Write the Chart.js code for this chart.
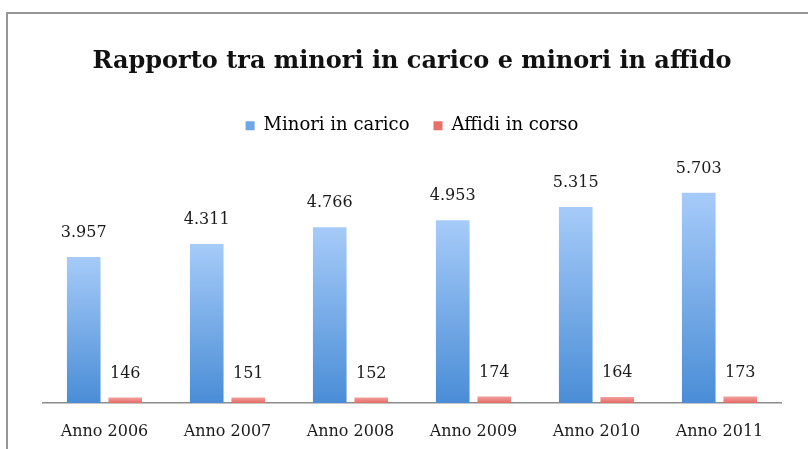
<!DOCTYPE html>
<html>
<head>
<meta charset="utf-8">
<script src="https://cdn.jsdelivr.net/npm/chart.js@4"></script>
<style>
  html, body { margin: 0; padding: 0; background: #fff; }
  #wrap { position: relative; width: 808px; height: 449px; overflow: hidden; }
  #frame { position: absolute; left: 6px; top: 12px; width: 820px; height: 460px;
           border-top: 2px solid #979797; border-left: 2px solid #979797; pointer-events: none; }
  canvas { position: absolute; left: 0; top: 0; }
</style>
</head>
<body>
<div id="wrap">
  <canvas id="c" width="808" height="449"></canvas>
  <div id="frame"></div>
</div>
<script>
const categories = ['Anno 2006', 'Anno 2007', 'Anno 2008', 'Anno 2009', 'Anno 2010', 'Anno 2011'];
const minoriInCarico = [3957, 4311, 4766, 4953, 5315, 5703];
const affidiInCorso = [146, 151, 152, 174, 164, 173];
const seriesNames = ['Minori in carico', 'Affidi in corso'];
const chartTitle = 'Rapporto tra minori in carico e minori in affido';

const SERIF = '"DejaVu Serif", "Liberation Serif", serif';

// thousands separator in Italian style: 3957 -> "3.957"
function fmt(v) {
  return String(v).replace(/\B(?=(\d{3})+(?!\d))/g, '.');
}

// vertical gradient that runs from each bar's own top down to the baseline
function barGradient(topColor, bottomColor) {
  return function (ctx) {
    const chart = ctx.chart;
    const y = chart.scales && chart.scales.y;
    if (!y || ctx.type !== 'data') return bottomColor;
    const v = ctx.dataset.data[ctx.dataIndex];
    const top = y.getPixelForValue(v);
    const base = y.getPixelForValue(0);
    if (!isFinite(top) || !isFinite(base) || base - top < 1) return bottomColor;
    const g = chart.ctx.createLinearGradient(0, top, 0, base);
    g.addColorStop(0, topColor);
    g.addColorStop(1, bottomColor);
    return g;
  };
}

// value labels above every bar
const valueLabels = {
  id: 'valueLabels',
  afterDatasetsDraw(chart) {
    const c = chart.ctx;
    c.save();
    c.font = '16px ' + SERIF;
    c.fillStyle = '#1a1a1a';
    c.textAlign = 'center';
    c.textBaseline = 'middle';
    chart.data.datasets.forEach((ds, di) => {
      const meta = chart.getDatasetMeta(di);
      meta.data.forEach((el, i) => {
        c.fillText(fmt(ds.data[i]), el.x, el.y - 24);
      });
    });
    c.restore();
  }
};

new Chart(document.getElementById('c'), {
  type: 'bar',
  data: {
    labels: categories,
    datasets: [
      {
        label: seriesNames[0],
        data: minoriInCarico,
        backgroundColor: barGradient('#a6cbf9', '#4a8dd6'),
        categoryPercentage: 0.675,
        barPercentage: 0.81
      },
      {
        label: seriesNames[1],
        data: affidiInCorso,
        backgroundColor: barGradient('#f3a09c', '#e56a66'),
        categoryPercentage: 0.675,
        barPercentage: 0.81
      }
    ]
  },
  options: {
    responsive: false,
    animation: false,
    devicePixelRatio: 1,
    layout: { padding: { left: 43, right: 27, top: 14, bottom: 0 } },
    plugins: {
      title: {
        display: true,
        text: chartTitle,
        color: '#111',
        font: { family: SERIF, size: 24, weight: 'bold', lineHeight: 1.2 },
        padding: { top: 33, bottom: 17 }
      },
      legend: {
        position: 'top',
        labels: {
          color: '#222',
          font: { family: SERIF, size: 18 },
          boxWidth: 9,
          boxHeight: 9,
          padding: 24,
          generateLabels(chart) {
            const fills = ['#6fa6e6', '#e8706c'];
            return chart.data.datasets.map((ds, i) => ({
              text: ds.label,
              fillStyle: fills[i],
              strokeStyle: fills[i],
              lineWidth: 0,
              hidden: false,
              datasetIndex: i
            }));
          }
        }
      },
      tooltip: { enabled: false }
    },
    scales: {
      x: {
        grid: { display: false, drawTicks: false },
        border: { display: true, color: '#8c8c8c', width: 1.5 },
        ticks: { color: '#1a1a1a', font: { family: SERIF, size: 16 }, padding: 19, maxRotation: 0 },
        afterFit(scale) { scale.height = 46; }
      },
      y: {
        display: false,
        min: 0,
        max: 7000
      }
    }
  },
  plugins: [valueLabels]
});
</script>
</body>
</html>
